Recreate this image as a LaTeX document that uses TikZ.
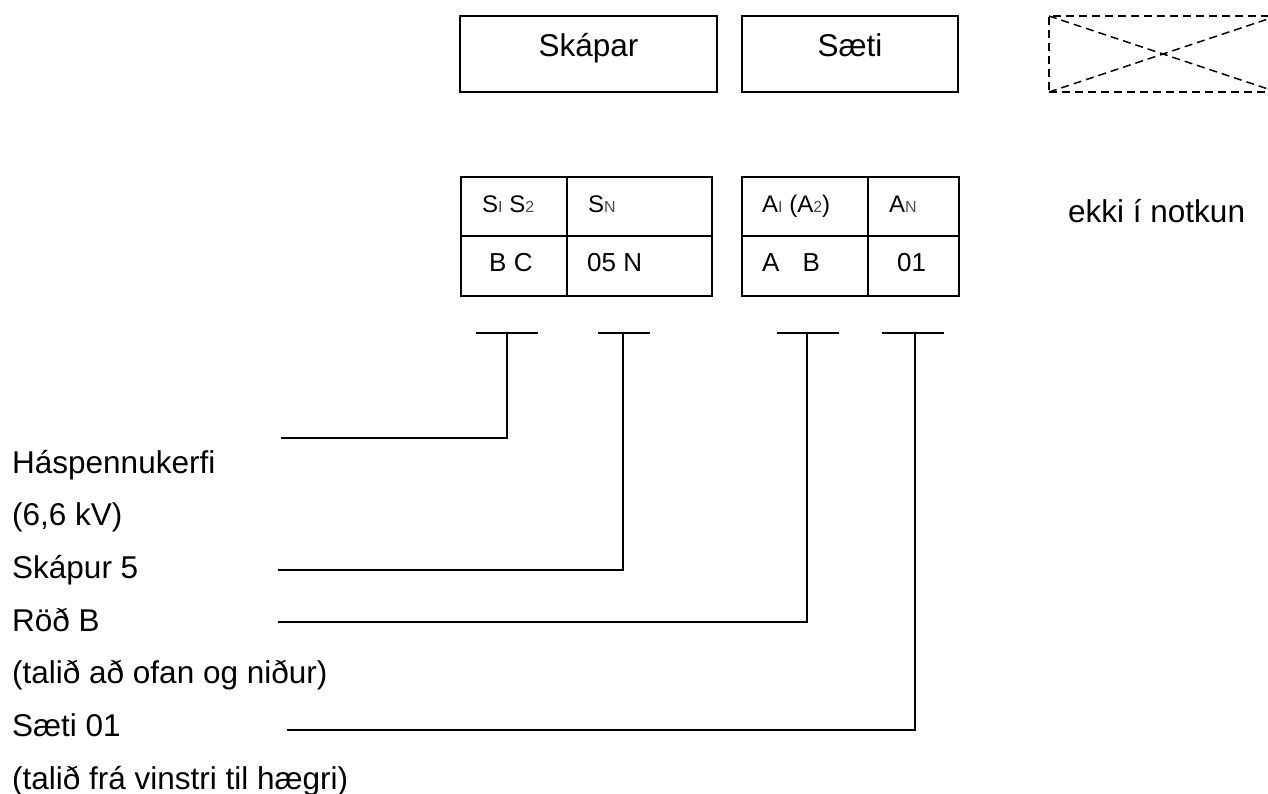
\documentclass[tikz,border=0pt]{standalone}
\usepackage{fontspec}
\setmainfont{Liberation Sans}
\newcommand\subsm[1]{{\fontsize{16}{18}\selectfont\color{black!70}#1}}
\begin{document}
\begin{tikzpicture}[x=1pt,y=-1pt,
  lbl/.style={anchor=base west, inner sep=0, font=\fontsize{31.5}{36}\selectfont},
  ctr/.style={anchor=base, inner sep=0, font=\fontsize{31.5}{36}\selectfont},
  rowa/.style={anchor=base west, inner sep=0, font=\fontsize{24}{28}\selectfont},
  rowb/.style={anchor=base west, inner sep=0, font=\fontsize{26}{30}\selectfont},
  topbox/.style={draw, line width=1.3pt, inner sep=0, outer sep=0, minimum height=76pt},
  cell/.style={draw, line width=2pt, inner sep=0, outer sep=0, minimum height=59.5pt},
  conn/.style={line width=2pt, line cap=rect},
  dashline/.style={line width=1.5pt, dash pattern=on 8pt off 5pt}]
\useasboundingbox (0,0) rectangle (1268,794);

% top boxes
\node[topbox, minimum width=257pt] (skapar) at (588.5,54) {};
\node[ctr] (skapartxt) at (588.5,57) {Skápar};
\node[topbox, minimum width=216pt] (saeti) at (850,54) {};
\node[ctr] (saetitxt) at (850,57) {Sæti};
\node[draw, dashline, inner sep=0, outer sep=0, minimum width=228pt, minimum height=76pt] (unused) at (1163,54) {};
\draw[dashline] (unused.north west) -- (unused.south east);
\draw[dashline] (unused.south west) -- (unused.north east);

% left table
\node[cell, minimum width=106pt] (a11) at (514,206.75) {};
\node[cell, minimum width=145pt] (a12) at (639.5,206.75) {};
\node[cell, minimum width=106pt] (a21) at (514,266.25) {};
\node[cell, minimum width=145pt] (a22) at (639.5,266.25) {};
% right table
\node[cell, minimum width=126pt] (b11) at (805,206.75) {};
\node[cell, minimum width=91pt] (b12) at (913.5,206.75) {};
\node[cell, minimum width=126pt] (b21) at (805,266.25) {};
\node[cell, minimum width=91pt] (b22) at (913.5,266.25) {};

\node[rowa] (ta11) at (482,213) {S\subsm{I} S\subsm{2}};
\node[rowa] (ta12) at (588,213) {S\subsm{N}};
\node[rowb] (ta21) at (489,272) {B C};
\node[rowb] (ta22) at (587,272) {05 N};
\node[rowa] (tb11) at (762,213) {A\subsm{I} (A\subsm{2})};
\node[rowa] (tb12) at (889,213) {A\subsm{N}};
\node[rowb] (tb21) at (762,272) {A\hspace{23pt}B};
\node[rowb] (tb22) at (897,272) {01};

\node[lbl] (ekki) at (1068,223) {ekki í notkun};

% left labels
\node[lbl] (l1) at (12,473) {Háspennukerfi};
\node[lbl] (l2) at (12,525.7) {(6,6 kV)};
\node[lbl] (l3) at (12,578.4) {Skápur 5};
\node[lbl] (l4) at (12,631.1) {Röð B};
\node[lbl] (l5) at (12,683.8) {(talið að ofan og niður)};
\node[lbl] (l6) at (12,736.5) {Sæti 01};
\node[lbl] (l7) at (12,789.2) {(talið frá vinstri til hægri)};

% T-bars and leaders
\coordinate (b1l) at (477,333); \coordinate (b1r) at (537,333); \coordinate (s1) at (507,333);
\coordinate (b2l) at (599,333); \coordinate (b2r) at (649,333); \coordinate (s2) at (623,333);
\coordinate (b3l) at (778,333); \coordinate (b3r) at (838,333); \coordinate (s3) at (807,333);
\coordinate (b4l) at (883,333); \coordinate (b4r) at (943,333); \coordinate (s4) at (915,333);
\coordinate (e1) at (281,438);
\coordinate (e2) at (278,570);
\coordinate (e3) at (278,621.5);
\coordinate (e4) at (287,730);

\draw[conn] (b1l) -- (b1r);
\draw[conn] (b2l) -- (b2r);
\draw[conn] (b3l) -- (b3r);
\draw[conn] (b4l) -- (b4r);
\draw[conn, line cap=butt] (s1) |- (e1);
\draw[conn, line cap=butt] (s2) |- (e2);
\draw[conn, line cap=butt] (s3) |- (e3);
\draw[conn, line cap=butt] (s4) |- (e4);
\end{tikzpicture}
\end{document}
